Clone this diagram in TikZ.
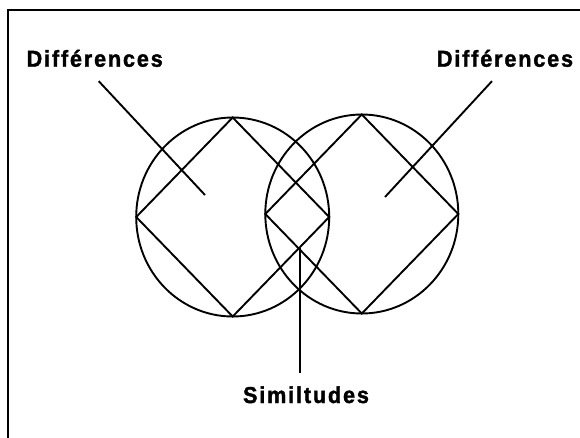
\documentclass[tikz,border=0pt]{standalone}
\usepackage{fontspec}
\setmainfont{Liberation Sans}
\newfontfamily\labelfont[LetterSpace=8,FakeBold=1.6,FakeStretch=0.94]{Liberation Sans}

\begin{document}
\begin{tikzpicture}[x=1pt,y=-1pt,
  lbl/.style={font=\labelfont\bfseries\fontsize{23}{26}\selectfont,inner sep=0pt,anchor=base},
  ln/.style={line width=1.9pt,draw=black}]
\useasboundingbox (0,0) rectangle (580,437);

% frame, only top and left edges inside the page
\draw[ln] (8,445) -- (8,10) -- (590,10);

\coordinate (cL) at (232.7,217);
\coordinate (cR) at (361.8,214);
\coordinate (Lt) at (232.7,117.5);
\coordinate (Lr) at (329.2,217);
\coordinate (Lb) at (232.7,316.5);
\coordinate (Ll) at (136.2,217);
\coordinate (Rt) at (361.8,114.5);
\coordinate (Rr) at (458.3,214);
\coordinate (Rb) at (361.8,313.5);
\coordinate (Rl) at (265.3,214);

\draw[ln] (cL) ellipse [x radius=96.5pt,y radius=99.5pt];
\draw[ln] (cR) ellipse [x radius=96.5pt,y radius=99.5pt];
\draw[ln] (Lt) -- (Lr) -- (Lb) -- (Ll) -- cycle;
\draw[ln] (Rt) -- (Rr) -- (Rb) -- (Rl) -- cycle;

\node[lbl] (difL) at (94.7,66.7) {Différences};
\node[lbl] (difR) at (505,66.7) {Différences};
\node[lbl] (sim)  at (306,403) {Similtudes};

\coordinate (tipL) at (205,195);
\coordinate (tipR) at (385,197);
\coordinate (meet) at (intersection of Lr--Lb and Rl--Rb);
\coordinate (simtop) at ([yshift=13pt]sim.north);

\draw[ln] ([shift={(4,14)}]difL.south) -- (tipL);
\draw[ln] ([shift={(-13,14)}]difR.south) -- (tipR);
\draw[ln] ([xshift=1pt]meet) -- ([xshift=1pt]meet |- simtop);
\end{tikzpicture}
\end{document}
